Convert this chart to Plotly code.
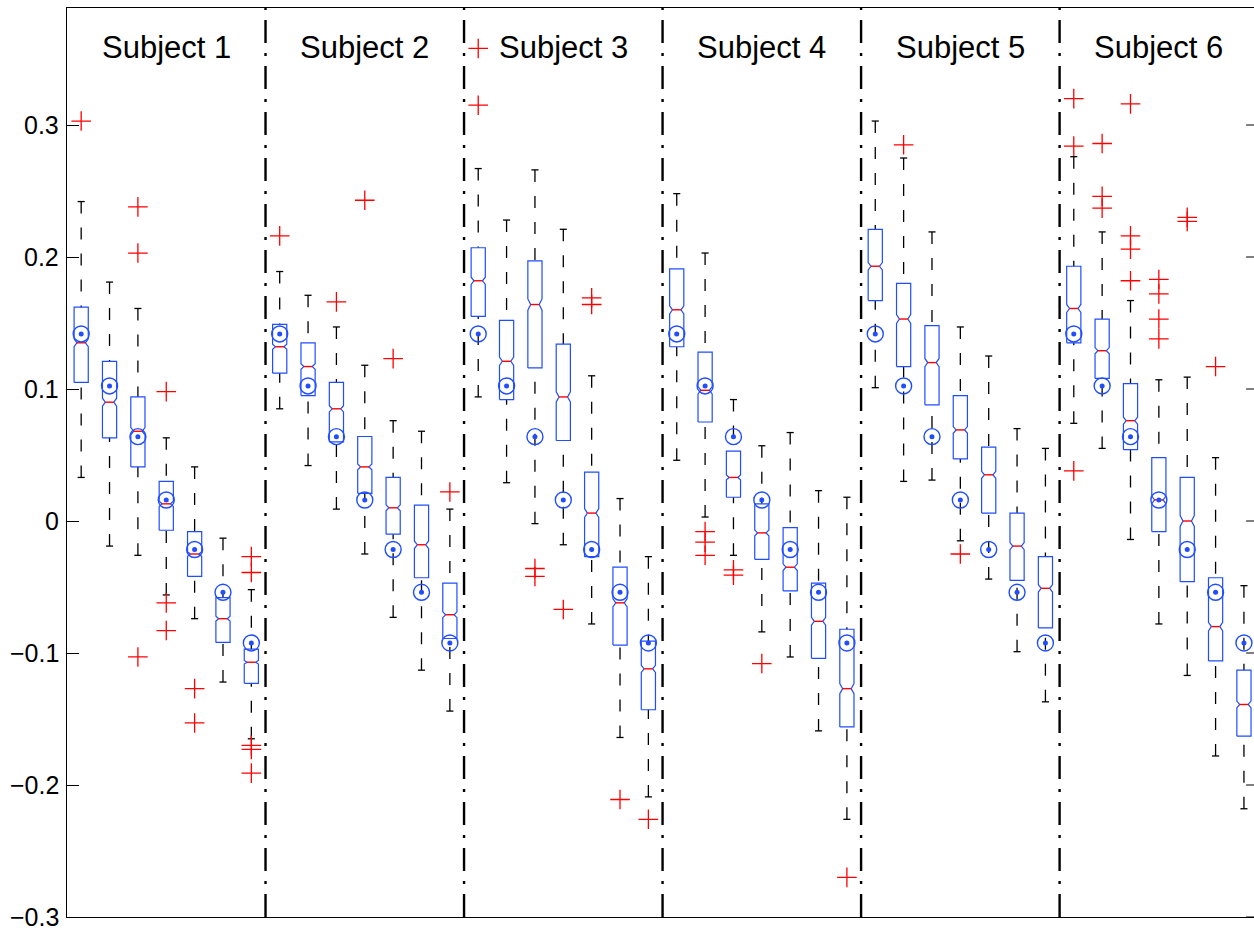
import numpy as np
import plotly.graph_objects as go

# ---------------- data ----------------
subjects = ["Subject 1", "Subject 2", "Subject 3", "Subject 4", "Subject 5", "Subject 6"]
n_per_subject = 7

# target values (circle markers), same for every subject
target = [0.1417, 0.1023, 0.0639, 0.0159, -0.0216, -0.054, -0.0924]

whisk_hi = [0.242, 0.181, 0.161, 0.063, 0.041, -0.013, -0.052,
            0.189, 0.171, 0.147, 0.118, 0.076, 0.068, 0.009,
            0.267, 0.228, 0.266, 0.221, 0.110, 0.017, -0.027,
            0.248, 0.203, 0.092, 0.057, 0.067, 0.023, 0.018,
            0.303, 0.275, 0.219, 0.147, 0.125, 0.070, 0.055,
            0.276, 0.219, 0.167, 0.107, 0.109, 0.048, -0.049]

q3 = [0.162, 0.121, 0.094, 0.030, -0.008, -0.058, -0.097,
      0.149, 0.135, 0.105, 0.064, 0.033, 0.012, -0.047,
      0.207, 0.152, 0.197, 0.134, 0.037, -0.035, -0.091,
      0.191, 0.128, 0.053, 0.013, -0.005, -0.047, -0.082,
      0.221, 0.180, 0.148, 0.095, 0.056, 0.006, -0.027,
      0.193, 0.153, 0.104, 0.048, 0.033, -0.043, -0.113]

med = [0.135, 0.090, 0.068, 0.013, -0.025, -0.074, -0.107,
       0.132, 0.117, 0.085, 0.041, 0.010, -0.018, -0.071,
       0.182, 0.121, 0.164, 0.094, 0.006, -0.062, -0.112,
       0.160, 0.099, 0.033, -0.009, -0.035, -0.076, -0.127,
       0.193, 0.153, 0.120, 0.069, 0.035, -0.019, -0.051,
       0.161, 0.129, 0.076, 0.016, 0.000, -0.080, -0.139]

q1 = [0.105, 0.063, 0.041, -0.007, -0.042, -0.092, -0.123,
      0.112, 0.095, 0.060, 0.021, -0.010, -0.043, -0.089,
      0.155, 0.092, 0.116, 0.061, -0.027, -0.094, -0.143,
      0.132, 0.075, 0.018, -0.029, -0.053, -0.104, -0.156,
      0.167, 0.117, 0.088, 0.047, 0.006, -0.045, -0.081,
      0.135, 0.108, 0.054, -0.008, -0.046, -0.106, -0.163]

whisk_lo = [0.033, -0.019, -0.026, -0.056, -0.074, -0.122, -0.165,
            0.085, 0.042, 0.009, -0.025, -0.073, -0.113, -0.144,
            0.094, 0.029, -0.002, -0.018, -0.078, -0.164, -0.209,
            0.046, 0.003, -0.026, -0.084, -0.103, -0.159, -0.226,
            0.101, 0.030, 0.031, -0.015, -0.044, -0.099, -0.137,
            0.074, 0.055, -0.014, -0.078, -0.117, -0.178, -0.218]

outliers = [
    [0.303], [], [0.238, 0.203, -0.103], [0.098, -0.062, -0.083], [-0.127, -0.153], [],
    [-0.027, -0.039, -0.170, -0.173, -0.191],
    [0.216], [], [0.166], [0.243], [0.123], [], [0.022],
    [0.358, 0.315], [], [-0.036, -0.042], [-0.067], [0.169, 0.164], [-0.211], [-0.226],
    [], [-0.008, -0.016, -0.026], [-0.037, -0.041], [-0.108], [], [], [-0.270],
    [], [0.285], [], [-0.025], [], [], [],
    [0.320, 0.284, 0.038], [0.286, 0.246, 0.237], [0.316, 0.216, 0.206, 0.182],
    [0.183, 0.172, 0.153, 0.138], [0.230, 0.227], [0.117], [],
]

ytick_vals = [-0.3, -0.2, -0.1, 0.0, 0.1, 0.2, 0.3]
ytick_text = ["\u22120.3", "\u22120.2", "\u22120.1", "0", "0.1", "0.2", "0.3"]

# ---------------- style ----------------
W, H = 1254, 932
ML, MT, MB = 67, 8, 15
px_per_unit = 28.36
half_w = 0.25          # box half width (data units)
inset = 0.10           # notch indentation
cap_half = 0.125
n_obs = 900
blue = "#1f4dff"
font_family = "Liberation Sans, Arial, Helvetica, sans-serif"

n_box = len(med)
pos = np.arange(1, n_box + 1)
y_lo = -0.3
y_hi = y_lo + (H - MT - MB) / 1320.0
x_lo = 0.5
x_hi = x_lo + (W - ML) / px_per_unit
x_axis_end = n_box + 0.5

# ---------------- geometry ----------------
bx, by, mx, my = [], [], [], []
wx, wy, cx, cy = [], [], [], []
ox, oy = [], []
for i in range(n_box):
    x = pos[i]
    iqr = q3[i] - q1[i]
    nt = 1.57 * iqr / np.sqrt(n_obs)
    l, r = x - half_w, x + half_w
    bx += [l, l, l + inset, l, l, r, r, r - inset, r, r, l, None]
    by += [q1[i], med[i] - nt, med[i], med[i] + nt, q3[i], q3[i], med[i] + nt, med[i], med[i] - nt, q1[i], q1[i], None]
    mx += [l + inset, r - inset, None]
    my += [med[i], med[i], None]
    wx += [x, x, None, x, x, None]
    wy += [whisk_hi[i], q3[i], None, whisk_lo[i], q1[i], None]
    cx += [x - cap_half, x + cap_half, None, x - cap_half, x + cap_half, None]
    cy += [whisk_hi[i], whisk_hi[i], None, whisk_lo[i], whisk_lo[i], None]
    for v in outliers[i]:
        ox.append(x)
        oy.append(v)

tx = list(pos)
ty = [target[i % n_per_subject] for i in range(n_box)]

fig = go.Figure()
fig.add_trace(go.Scatter(x=wx, y=wy, mode="lines", hoverinfo="skip",
                         line=dict(color="black", width=1.3, dash="12px,14px")))
fig.add_trace(go.Scatter(x=cx, y=cy, mode="lines", hoverinfo="skip",
                         line=dict(color="black", width=1.3)))
fig.add_trace(go.Scatter(x=bx, y=by, mode="lines", hoverinfo="skip",
                         line=dict(color=blue, width=1.2)))
fig.add_trace(go.Scatter(x=mx, y=my, mode="lines", hoverinfo="skip",
                         line=dict(color="red", width=1.4)))
fig.add_trace(go.Scatter(x=ox, y=oy, mode="markers", hoverinfo="skip",
                         marker=dict(symbol="cross-thin-open", size=14,
                                     line=dict(color="red", width=1.3), color="red")))
fig.add_trace(go.Scatter(x=tx, y=ty, mode="markers", hoverinfo="skip",
                         marker=dict(symbol="circle-open", size=16,
                                     line=dict(color=blue, width=1.4), color=blue)))
fig.add_trace(go.Scatter(x=tx, y=ty, mode="markers", hoverinfo="skip",
                         marker=dict(symbol="circle", size=5, color=blue,
                                     line=dict(width=0))))

shapes = []
for k in range(1, len(subjects)):
    xs = k * n_per_subject + 0.5
    shapes.append(dict(type="line", xref="x", yref="paper", x0=xs, x1=xs, y0=0, y1=1,
                       line=dict(color="black", width=2.4, dash="23px,10px,3px,10px")))
# right-hand mirrored ticks
for v in ytick_vals:
    shapes.append(dict(type="line", xref="x", yref="y",
                       x0=x_axis_end - 12 / px_per_unit, x1=x_axis_end, y0=v, y1=v,
                       line=dict(color="black", width=1)))

annotations = []
for k, s in enumerate(subjects):
    annotations.append(dict(x=k * n_per_subject + (n_per_subject + 1) / 2, y=0.359,
                            xref="x", yref="y", text=s, showarrow=False,
                            xanchor="center", yanchor="middle",
                            font=dict(family=font_family, size=31, color="black")))
# y tick labels
for v, t in zip(ytick_vals, ytick_text):
    annotations.append(dict(x=0, y=v, xref="paper", yref="y", text=t, showarrow=False,
                            xanchor="right", yanchor="middle", xshift=-6,
                            font=dict(family=font_family, size=25, color="black")))

fig.update_layout(
    width=W, height=H, autosize=False,
    margin=dict(l=ML, r=0, t=MT, b=MB, pad=0),
    paper_bgcolor="white", plot_bgcolor="white",
    showlegend=False,
    shapes=shapes, annotations=annotations,
    xaxis=dict(range=[x_lo, x_hi], showticklabels=False, ticks="",
               showline=True, linecolor="black", linewidth=1, mirror=True,
               showgrid=False, zeroline=False),
    yaxis=dict(range=[y_lo, y_hi], tickvals=ytick_vals, showticklabels=False,
               ticks="inside", ticklen=12, tickcolor="black", tickwidth=1,
               showline=True, linecolor="black", linewidth=1, mirror=False,
               showgrid=False, zeroline=False),
)

fig.write_html("out.html", post_script="document.body.style.margin='0';",
               config={"displayModeBar": False, "staticPlot": True})
